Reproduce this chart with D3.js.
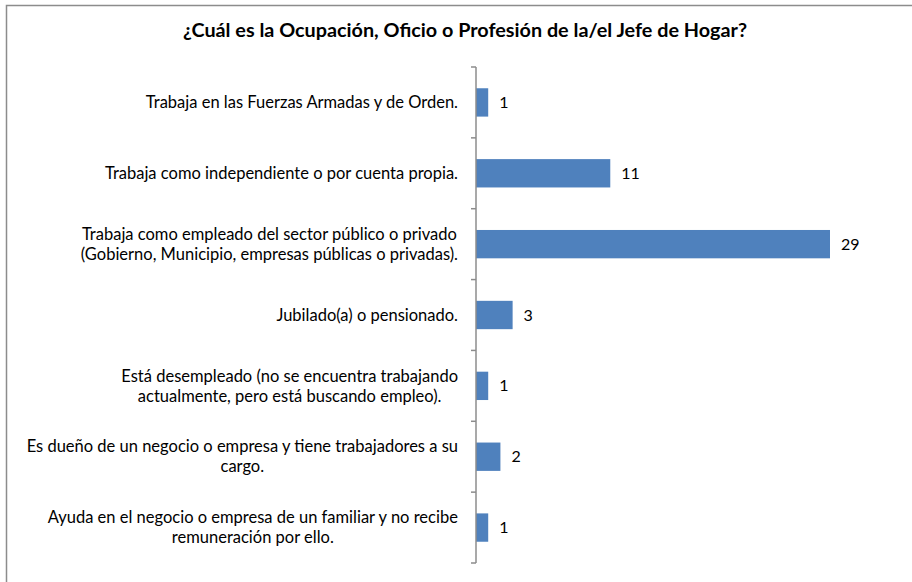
<!DOCTYPE html>
<html>
<head>
<meta charset="utf-8">
<script src="https://cdn.jsdelivr.net/npm/d3@7"></script>
<style>
  body { margin: 0; background: #fff; }
  svg text { font-family: Lato, "Open Sans", sans-serif; fill: #000; }
</style>
</head>
<body>
<div id="graf"></div>
<script>
// datos del grafico
const categorias = [
  ["Trabaja en las Fuerzas Armadas y de Orden."],
  ["Trabaja como independiente o por cuenta propia."],
  ["Trabaja como empleado del sector público o privado", "(Gobierno, Municipio, empresas públicas o privadas)."],
  ["Jubilado(a) o pensionado."],
  ["Está desempleado (no se encuentra trabajando", "actualmente, pero está buscando empleo)."],
  ["Es dueño de un negocio o empresa y tiene trabajadores a su", "cargo."],
  ["Ayuda en el negocio o empresa de un familiar y no recibe", "remuneración por ello."]
];
const valores = [1, 11, 29, 3, 1, 2, 1];
const titulo = "¿Cuál es la Ocupación, Oficio o Profesión de la/el Jefe de Hogar?";

const anchoTotal = 912, altoTotal = 582;
const margins = { top: 67, right: 82, bottom: 19, left: 476 };
const ancho = anchoTotal - margins.left - margins.right;
const alto = altoTotal - margins.top - margins.bottom;

const data = categorias.map((c, i) => ({ id: i, label: c, votos: valores[i] }));

const svg = d3.select("#graf").append("svg")
  .attr("width", anchoTotal)
  .attr("height", altoTotal);

// marco
svg.append("rect")
  .attr("x", 6.5).attr("y", 5.5)
  .attr("width", 960).attr("height", 640)
  .attr("fill", "white")
  .attr("stroke", "#8c8c8c")
  .attr("stroke-width", 1.5);

svg.append("text")
  .attr("x", 465)
  .attr("y", 37)
  .attr("text-anchor", "middle")
  .style("font-size", "19.8px")
  .style("font-weight", "bold")
  .text(titulo);

const g = svg.append("g")
  .attr("transform", `translate(${margins.left}, ${margins.top})`);

// Escaladores
const x = d3.scaleLinear().domain([0, 29]).range([0, 354]);
const y = d3.scaleBand()
  .domain(data.map(d => d.id))
  .range([0, alto])
  .paddingInner(0.6)
  .paddingOuter(0.3);

// barras
g.selectAll("rect.bar").data(data).enter()
  .append("rect")
  .attr("class", "bar")
  .attr("x", 0)
  .attr("y", d => y(d.id))
  .attr("width", d => x(d.votos))
  .attr("height", y.bandwidth())
  .attr("fill", "#4F81BD");

// etiquetas de valor
g.selectAll("text.valor").data(data).enter()
  .append("text")
  .attr("class", "valor")
  .attr("x", d => x(d.votos) + 11)
  .attr("y", d => y(d.id) + y.bandwidth() / 2)
  .attr("dy", "0.35em")
  .style("font-size", "16px")
  .text(d => d.votos);

// eje vertical con marcas
const paso = alto / data.length;
const eje = g.append("g");
eje.append("line")
  .attr("x1", 0).attr("x2", 0)
  .attr("y1", 0).attr("y2", alto)
  .attr("stroke", "#8c8c8c").attr("stroke-width", 1.5);
eje.selectAll("line.tick").data(d3.range(data.length + 1)).enter()
  .append("line")
  .attr("class", "tick")
  .attr("x1", -5).attr("x2", 0)
  .attr("y1", i => i * paso).attr("y2", i => i * paso)
  .attr("stroke", "#8c8c8c").attr("stroke-width", 1.5);

// etiquetas de categorias (bloque alineado a la derecha, lineas centradas)
const etiquetas = g.append("g");
data.forEach(d => {
  const cy = y(d.id) + y.bandwidth() / 2;
  const t = etiquetas.append("text")
    .attr("text-anchor", "middle")
    .style("font-size", "16.5px");
  const n = d.label.length;
  d.label.forEach((linea, k) => {
    t.append("tspan")
      .attr("x", 0)
      .attr("y", cy + (k - (n - 1) / 2) * 20)
      .attr("dy", "0.35em")
      .text(linea);
  });
  const w = t.node().getBBox().width;
  t.selectAll("tspan").attr("x", -18 - w / 2);
});
</script>
</body>
</html>
